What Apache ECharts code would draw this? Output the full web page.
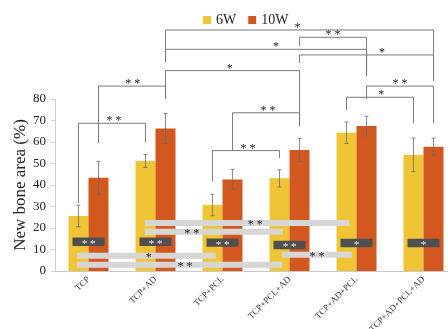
<!DOCTYPE html>
<html><head><meta charset="utf-8">
<script src="https://cdn.jsdelivr.net/npm/echarts@6/dist/echarts.min.js"></script>
<style>html,body{margin:0;padding:0;background:#fff}#c{width:448px;height:329px}</style>
</head><body><div id="c"></div>
<script>
// ---- data ----
const categories = ['TCP', 'TCP+AD', 'TCP+PCL', 'TCP+PCL+AD', 'TCP+AD+PCL', 'TCP+AD+PCL+AD'];
const values6W  = [25.6, 51.2, 30.7, 43.1, 64.3, 54.0];
const values10W = [43.4, 66.3, 42.6, 56.3, 67.4, 57.8];
const err6W  = [5.0, 3.0, 5.0, 4.0, 5.0, 7.8];
const err10W = [7.6, 7.0, 4.7, 5.4, 4.6, 4.0];
const yTicks = [0, 10, 20, 30, 40, 50, 60, 70, 80];
// significance brackets: [fromX, toX, topY, leftLegBottomY, rightLegBottomY, labelX, label]
const brackets = [
  [1.15, 5.15, 112.1, 97.2, 88.4, 3.12, '*'],
  [3.15, 4.15, 108.7, 104.7, 90.7, 3.65, '* *'],
  [1.15, 4.15, 103.1, 97.2, 90.7, 2.8, '*'],
  [3.15, 5.15, 100.5, 96.7, 88.4, 4.38, '*'],
  [1.15, 3.15, 93.2, 80.0, 67.4, 2.11, '*'],
  [0.15, 1.15, 86.0, 59.5, 80.0, 0.66, '* *'],
  [4.15, 5.15, 86.0, 80.0, 68.8, 4.65, '* *'],
  [3.85, 4.85, 80.8, 74.9, 68.8, 4.37, '*'],
  [-0.15, 0.85, 68.7, 31.6, 60.0, 0.38, '* *'],
  [2.15, 3.15, 73.6, 55.8, 67.4, 2.68, '* *'],
  [1.85, 2.85, 56.0, 41.5, 52.6, 2.38, '* *']
];
// light grey comparison strips: [fromX, toX, y, labelX, label]
const strips = [
  [-0.17, 1.90, 7.1, 0.9, '*'],
  [-0.17, 2.89, 2.9, 1.44, '* *'],
  [0.84, 3.89, 22.3, 2.49, '* *'],
  [0.84, 2.90, 18.3, 1.54, '* *'],
  [2.89, 3.93, 7.6, 3.41, '* *']
];
// dark boxes under each group: [x, y, label]
const boxes = [
  [0, 13.6, '* *'],
  [1, 13.6, '* *'],
  [2, 13.2, '* *'],
  [3, 12.1, '* *'],
  [4, 13.0, '*'],
  [5, 13.0, '*']
];

const serif = 'Liberation Serif';
const errData = [];
values6W.forEach((v, i) => errData.push([i - 0.15, v - err6W[i], v + err6W[i]]));
values10W.forEach((v, i) => errData.push([i + 0.15, v - err10W[i], v + err10W[i]]));

const chart = echarts.init(document.getElementById('c'), null, {renderer: 'canvas'});
chart.setOption({
  animation: false,
  legend: {
    top: 8, left: 198, icon: 'rect', itemWidth: 8, itemHeight: 8, itemGap: 12,
    textStyle: {fontFamily: serif, fontSize: 14, color: '#222'},
    data: ['6W', '10W']
  },
  grid: {left: 55, top: 99, width: 402, height: 172, outerBoundsMode: 'none', containLabel: false},
  xAxis: [{
    type: 'category', data: categories,
    axisLine: {lineStyle: {color: '#c8c8c8'}},
    axisTick: {show: false},
    axisLabel: {rotate: 45, fontFamily: serif, fontSize: 9, color: '#333', margin: 7, interval: 0}
  }, {
    type: 'value', min: -0.5, max: 5.5, show: false
  }],
  yAxis: {
    type: 'value', min: yTicks[0], max: yTicks[yTicks.length - 1], interval: 10,
    splitLine: {show: false},
    axisLine: {show: true, onZero: false, lineStyle: {color: '#d0d0d0'}},
    axisTick: {show: true, length: 4, lineStyle: {color: '#d0d0d0'}},
    axisLabel: {fontFamily: serif, fontSize: 13, color: '#222', margin: 9},
    name: 'New bone area (%)', nameLocation: 'middle', nameGap: 26, nameRotate: 90,
    nameMoveOverlap: false,
    nameTextStyle: {fontFamily: serif, fontSize: 17, color: '#222'}
  },
  series: [
    {name: '6W', type: 'bar', data: values6W, barWidth: 20, barGap: '0%',
     itemStyle: {color: '#F0C535'}, z: 2},
    {name: '10W', type: 'bar', data: values10W, barWidth: 20, barGap: '0%',
     itemStyle: {color: '#D3581F'}, z: 2},
    {type: 'custom', xAxisIndex: 1, data: strips, z: 5, clip: false, silent: true,
     renderItem: function (params, api) {
       const a = api.coord([api.value(0), api.value(2)]);
       const b = api.coord([api.value(1), api.value(2)]);
       const l = api.coord([api.value(3), api.value(2)]);
       return {type: 'group', children: [
         {type: 'rect', shape: {x: a[0], y: a[1] - 3, width: b[0] - a[0], height: 6},
          style: {fill: '#d6d6d6'}},
         {type: 'text', style: {x: l[0], y: a[1] + 2, text: strips[params.dataIndex][4],
          fontFamily: serif, fontSize: 12, fill: '#222', align: 'center', verticalAlign: 'middle'}}
       ]};
     }},
    {type: 'custom', xAxisIndex: 1, data: boxes, z: 6, clip: false, silent: true,
     renderItem: function (params, api) {
       const p = api.coord([api.value(0), api.value(1)]);
       return {type: 'group', children: [
         {type: 'rect', shape: {x: p[0] - 16, y: p[1] - 4.2, width: 32, height: 8.4},
          style: {fill: '#4f4f4f'}},
         {type: 'text', style: {x: p[0], y: p[1] + 2, text: boxes[params.dataIndex][2],
          fontFamily: serif, fontSize: 11, fill: '#f2f2f2', align: 'center', verticalAlign: 'middle'}}
       ]};
     }},
    {type: 'custom', xAxisIndex: 1, data: errData, z: 7, clip: false, silent: true,
     renderItem: function (params, api) {
       const lo = api.coord([api.value(0), api.value(1)]);
       const hi = api.coord([api.value(0), api.value(2)]);
       const st = {stroke: '#6a6a6a', lineWidth: 0.8};
       return {type: 'group', children: [
         {type: 'line', shape: {x1: lo[0], y1: lo[1], x2: hi[0], y2: hi[1]}, style: st},
         {type: 'line', shape: {x1: hi[0] - 2, y1: hi[1], x2: hi[0] + 2, y2: hi[1]}, style: st},
         {type: 'line', shape: {x1: lo[0] - 2, y1: lo[1], x2: lo[0] + 2, y2: lo[1]}, style: st}
       ]};
     }},
    {type: 'custom', xAxisIndex: 1, data: brackets, z: 8, clip: false, silent: true,
     renderItem: function (params, api) {
       const d = brackets[params.dataIndex];
       const tl = api.coord([d[0], d[2]]), tr = api.coord([d[1], d[2]]);
       const bl = api.coord([d[0], d[3]]), br = api.coord([d[1], d[4]]);
       const lp = api.coord([d[5], d[2]]);
       return {type: 'group', children: [
         {type: 'polyline', shape: {points: [[bl[0], bl[1]], [tl[0], tl[1]], [tr[0], tr[1]], [br[0], br[1]]]},
          style: {stroke: '#7a7a7a', lineWidth: 1, fill: null}},
         {type: 'text', style: {x: lp[0], y: lp[1] + 4, text: d[6], fontFamily: serif, fontSize: 12,
          fill: '#222', align: 'center', verticalAlign: 'bottom'}}
       ]};
     }}
  ]
});
</script></body></html>
